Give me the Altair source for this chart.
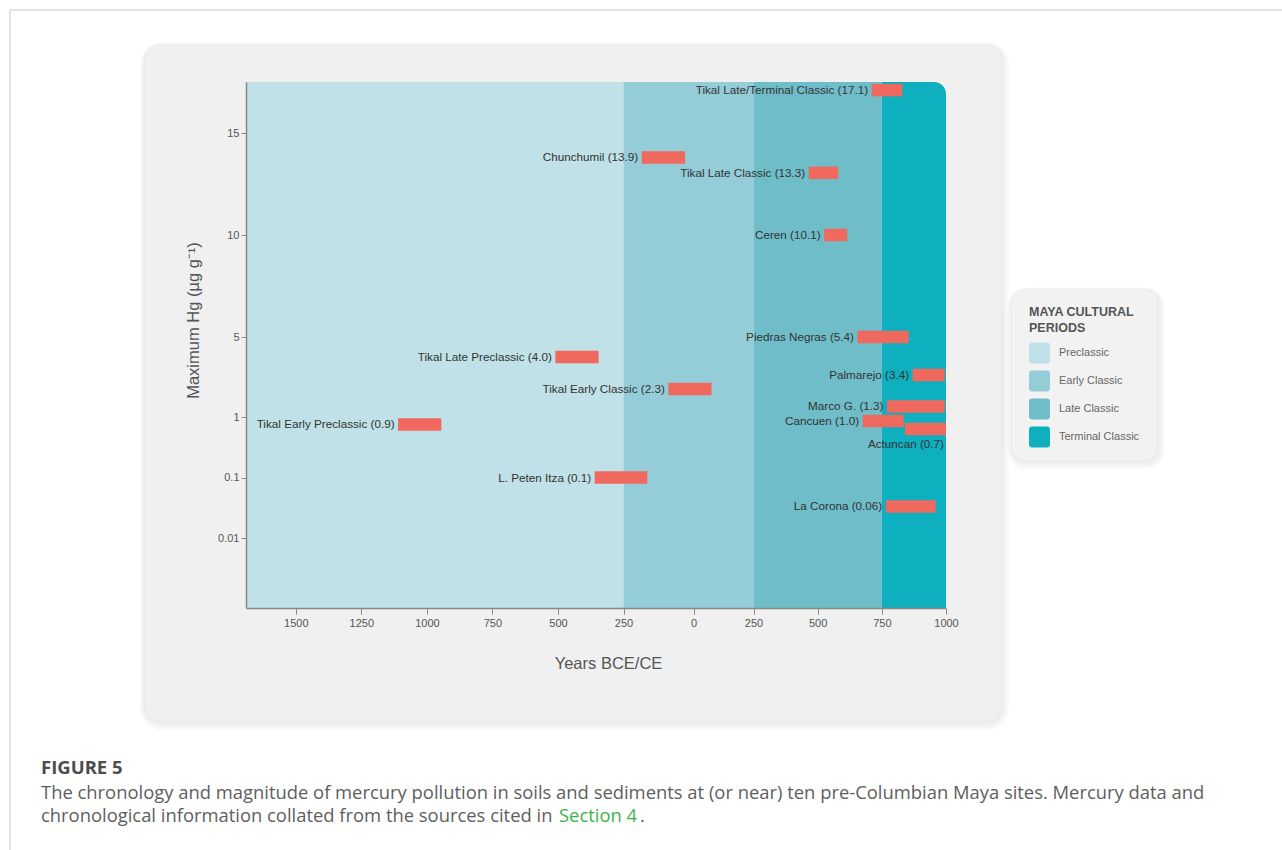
import altair as alt
import pandas as pd

# ---------------- data ----------------
sites = ["Tikal Late/Terminal Classic", "Chunchumil", "Tikal Late Classic", "Ceren",
         "Piedras Negras", "Tikal Late Preclassic", "Palmarejo", "Tikal Early Classic",
         "Marco G.", "Cancuen", "Actuncan", "Tikal Early Preclassic", "L. Peten Itza",
         "La Corona"]
hg_max = ["17.1", "13.9", "13.3", "10.1", "5.4", "4.0", "3.4", "2.3", "1.3", "1.0",
          "0.7", "0.9", "0.1", "0.06"]
# vertical position of each bar
plot_level = [17.1, 13.8, 13.05, 10.0, 5.0, 4.0, 3.1, 2.4, 1.53, 0.94, 0.82, 0.89,
              0.1, 0.057]
start_year = [710, -185, 465, 525, 655, -510, 870, -90, 770, 675, 840, -1110, -360, 765]
end_year = [830, -30, 580, 615, 855, -345, 995, 75, 995, 835, 1000, -945, -165, 960]
label_place = ["left"] * 10 + ["below"] + ["left"] * 3

periods = ["Preclassic", "Early Classic", "Late Classic", "Terminal Classic"]
period_start = [-1690, -250, 250, 750]
period_end = [-250, 250, 750, 1000]
period_colors = ["#bfe1e7", "#94cdd8", "#6fbdc9", "#0eafbf"]

x_ticks = [-1500, -1250, -1000, -750, -500, -250, 0, 250, 500, 750, 1000]
y_ticks = [0.01, 0.1, 1, 5, 10, 15]

caption_title = "FIGURE 5"
caption_line1 = ("The chronology and magnitude of mercury pollution in soils and sediments at "
                 "(or near) ten pre-Columbian Maya sites. Mercury data and")
caption_line2 = "chronological information collated from the sources cited in "
caption_link = "Section 4"

# ---------------- tables ----------------
sites_df = pd.DataFrame({
    "site": sites, "hg": hg_max, "level": plot_level,
    "start": start_year, "end": end_year, "place": label_place,
})
sites_df["label"] = sites_df["site"] + " (" + sites_df["hg"] + ")"
periods_df = pd.DataFrame({"period": periods, "start": period_start, "end": period_end})
one = pd.DataFrame({"d": [0]})

W, H = 700, 526
FONT = "Liberation Sans"

x_scale = alt.Scale(domain=[-1690, -250, 0, 250, 1000],
                    range=[0, 377.5, 447.5, 507.5, W], zero=False, nice=False)
y_scale = alt.Scale(domain=[0, 0.01, 0.1, 1, 5, 10, 15, 17.5],
                    range=[H, 456, 395.5, 335, 255, 153, 51, 0], zero=False, nice=False)
color_scale = alt.Scale(domain=periods, range=period_colors)

rounded_square = ("M-0.7,-1L0.7,-1Q1,-1 1,-0.7L1,0.7Q1,1 0.7,1L-0.7,1"
                  "Q-1,1 -1,0.7L-1,-0.7Q-1,-1 -0.7,-1Z")


def box(x0, y0, x1, y1, fill, radius, opacity=1.0):
    return alt.Chart(one).mark_rect(fill=fill, cornerRadius=radius, opacity=opacity).encode(
        x=alt.value(x0), x2=alt.value(x1), y=alt.value(y0), y2=alt.value(y1))


def shadow(x0, y0, x1, y1, radius):
    layers = []
    for k in [8, 6, 4, 2]:
        layers.append(box(x0 - k * 0.6, y0 - k * 0.3, x1 + k, y1 + k * 1.2,
                          "#000000", radius + k, 0.018))
    return layers


card = shadow(-101, -37, 755, 639, 14) + [box(-101, -37, 755, 639, "#f0f0f0", 14)]
legend_box = shadow(766, 208, 911, 378, 12) + [box(766, 208, 911, 378, "#f2f2f2", 12)]

frame_top = alt.Chart(one).mark_rule(color="#c8c8c8", strokeWidth=1).encode(
    x=alt.value(-236), x2=alt.value(1040), y=alt.value(-72))
frame_left = alt.Chart(one).mark_rule(color="#c8c8c8", strokeWidth=1).encode(
    x=alt.value(-236), y=alt.value(-72), y2=alt.value(770))

legend = alt.Legend(
    title=["MAYA CULTURAL", "PERIODS"], orient="none", legendX=783, legendY=224,
    padding=0, symbolType=rounded_square, symbolSize=441, symbolStrokeWidth=0,
    symbolOpacity=1, rowPadding=7, labelOffset=9, labelFontSize=11, labelColor="#666666",
    labelFont=FONT, titleFont=FONT, titleFontSize=12.5, titleFontWeight="bold",
    titleColor="#555555", titleLineHeight=16, titlePadding=8)

x_axis = alt.Axis(
    values=x_ticks, labelExpr="'' + abs(datum.value)", title="Years BCE/CE",
    titleFont=FONT, titleFontSize=16.5, titleFontWeight="normal", titleColor="#555555",
    titleX=362, titleY=55, titleAlign="center", titleBaseline="middle",
    labelFont=FONT, labelFontSize=11, labelColor="#555555", labelPadding=3,
    labelFlush=False, labelOverlap=False, tickColor="#888888", tickSize=6,
    domainColor="#888888", domainWidth=1.5, grid=False, zindex=1)

y_axis = alt.Axis(
    values=y_ticks, labelExpr="'' + datum.value", title="Maximum Hg (µg g⁻¹)",
    titleFont=FONT, titleFontSize=16.5, titleFontWeight="normal", titleColor="#555555",
    titleX=-53, titleY=238, titleAngle=270, titleAlign="center", titleBaseline="middle",
    labelFont=FONT, labelFontSize=11, labelColor="#555555", labelPadding=2,
    labelFlush=False, labelOverlap=False, tickColor="#888888", tickSize=5,
    domainColor="#888888", domainWidth=1.5, grid=False, zindex=1)

X_START = alt.X("start:Q", scale=x_scale, axis=x_axis)
X_END = alt.X("end:Q", scale=x_scale, axis=x_axis)
Y_LEVEL = alt.Y("level:Q", scale=y_scale, axis=y_axis)

period_base = alt.Chart(periods_df)
period_rects = period_base.transform_filter(
    alt.datum.period != "Terminal Classic").mark_rect(clip=True).encode(
    x=X_START, x2="end:Q",
    y=alt.value(0), y2=alt.value(H),
    color=alt.Color("period:N", scale=color_scale, legend=legend))
period_last = period_base.transform_filter(
    alt.datum.period == "Terminal Classic").mark_rect(clip=True, cornerRadiusTopRight=12).encode(
    x=X_START, x2="end:Q",
    y=alt.value(0), y2=alt.value(H),
    color=alt.Color("period:N", scale=color_scale, legend=legend))

base = alt.Chart(sites_df)
bars = base.mark_rule(strokeWidth=12.5, color="#f0695f", strokeCap="butt").encode(
    x=X_START, x2="end:Q", y=Y_LEVEL)
labels_left = base.transform_filter(alt.datum.place == "left").mark_text(
    align="right", baseline="middle", dx=-3.5, fontSize=11.7, font=FONT,
    color="#333333").encode(x=X_START, y=Y_LEVEL, text="label:N")
labels_below = base.transform_filter(alt.datum.place == "below").mark_text(
    align="right", baseline="middle", dx=-2, dy=15, fontSize=11.7, font=FONT,
    color="#333333").encode(x=X_END, y=Y_LEVEL, text="label:N")

CAP_FONT = "Open Sans"
CAP_SIZE = 18.4
cap1 = alt.Chart(one).mark_text(text=caption_title, align="left", baseline="middle",
                                font=CAP_FONT, fontSize=18.5, fontWeight="bold",
                                color="#4d4d4d").encode(x=alt.value(-205), y=alt.value(686))
cap2 = alt.Chart(one).mark_text(text=caption_line1, align="left", baseline="middle",
                                font=CAP_FONT, fontSize=CAP_SIZE, color="#5e5e5e").encode(
    x=alt.value(-205), y=alt.value(711))
cap3 = alt.Chart(one).mark_text(text=caption_line2, align="left", baseline="middle",
                                font=CAP_FONT, fontSize=CAP_SIZE, color="#5e5e5e").encode(
    x=alt.value(-205), y=alt.value(734))
cap4 = alt.Chart(one).mark_text(text=caption_link, align="left", baseline="middle",
                                font=CAP_FONT, fontSize=CAP_SIZE, color="#3cb44b").encode(
    x=alt.value(313), y=alt.value(734))
cap5 = alt.Chart(one).mark_text(text=".", align="left", baseline="middle",
                                font=CAP_FONT, fontSize=CAP_SIZE, color="#5e5e5e").encode(
    x=alt.value(394), y=alt.value(734))

chart = alt.layer(
    frame_top, frame_left, *card, *legend_box,
    period_rects, period_last, bars, labels_left, labels_below,
    cap1, cap2, cap3, cap4, cap5,
).properties(
    width=W, height=H,
    autosize=alt.AutoSizeParams(type="none"),
    padding={"left": 246, "top": 82, "right": 336, "bottom": 242},
    background="white",
).configure_view(stroke=None)

chart.save("out.html", embed_options={"renderer": "svg", "actions": False})
